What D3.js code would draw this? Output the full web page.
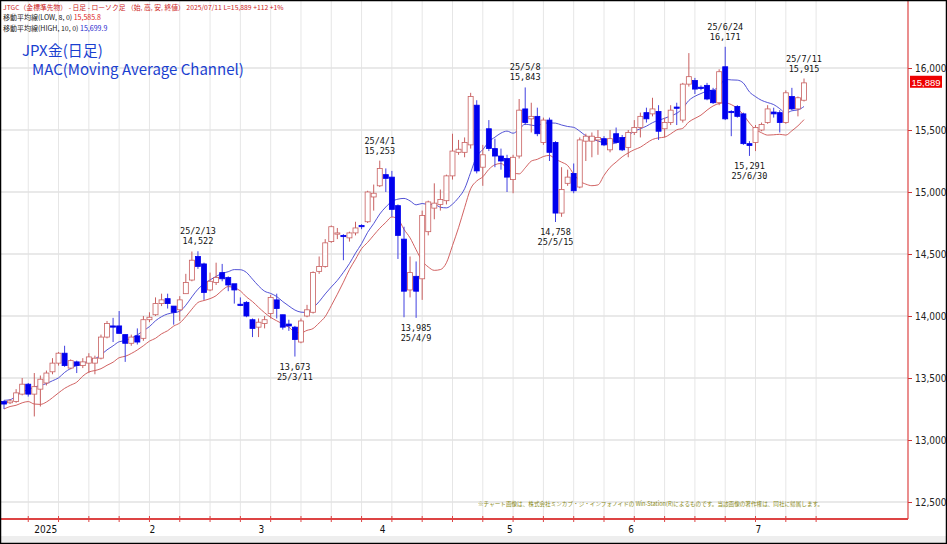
<!DOCTYPE html>
<html><head><meta charset="utf-8">
<script src="https://cdn.jsdelivr.net/npm/d3@7"></script>
<style>body{margin:0;background:#fff}svg{display:block;font-family:"Noto Sans CJK JP","DejaVu Sans",sans-serif}</style>
</head><body><svg id="c" width="947" height="544"></svg>
<script>
const opens=[13310,13300,13310,13370,13450,13370,13410,13460,13550,13620,13700,13580,13630,13600,13620,13620,13660,13830,13920,13920,13850,13780,13840,13820,13970,14010,14100,14140,14080,14050,14180,14290,14480,14420,14210,14270,14350,14310,14260,14095,14110,13970,13910,13940,14020,14130,14010,13935,13910,13790,14000,14030,14360,14400,14600,14660,14650,14630,14670,14730,14760,14960,15050,15140,15120,14890,14620,14210,14320,14300,14680,14870,14900,14930,15130,15320,15320,15380,15700,15200,15510,15350,15290,15270,15100,15290,15670,15590,15610,15400,15580,15400,14830,15070,15150,15040,15410,15410,15420,15430,15340,15470,15440,15360,15480,15520,15640,15630,15650,15510,15560,15685,15580,15870,15900,15845,15860,15820,15720,16010,15650,15690,15630,15390,15400,15500,15560,15645,15640,15560,15770,15670,15740];
const highs=[13320,13330,13410,13500,13460,13540,13520,13560,13660,13710,13760,13650,13640,13660,13700,13680,13850,13960,13985,14040,13850,13850,13900,14000,14030,14150,14180,14180,14080,14160,14340,14520,14522,14430,14350,14430,14420,14320,14250,14150,14120,13980,13980,14000,14170,14180,14010,13970,13920,13980,14090,14360,14480,14620,14730,14710,14660,14680,14760,14740,15010,15060,15253,15190,15170,14900,14720,14480,14440,14850,14930,15070,15020,15140,15470,15420,15440,15800,15740,15380,15580,15430,15350,15300,15300,15750,15843,15720,15680,15600,15600,15410,15200,15180,15230,15440,15470,15480,15500,15450,15500,15520,15460,15500,15580,15640,15680,15760,15700,15600,15700,15720,15880,16120,15920,15860,15880,15840,15990,16171,15660,15700,15640,15410,15540,15560,15700,15680,15660,15820,15840,15770,15915];
const lows=[13250,13290,13300,13360,13350,13190,13270,13440,13530,13600,13590,13570,13540,13580,13540,13530,13650,13820,13790,13860,13630,13760,13770,13800,13950,14000,14080,14060,13930,13960,14180,14280,14380,14130,14200,14250,14280,14200,14100,14080,13990,13830,13830,13900,13980,13980,13890,13880,13673,13780,13990,14020,14340,14390,14590,14620,14450,14600,14650,14700,14750,14850,15040,15000,14800,14460,13990,14150,13985,14130,14650,14780,14850,14900,15100,15300,15280,15350,15150,15050,15330,15200,15180,15000,14990,15270,15540,15480,15450,15380,15250,14758,14800,15050,14990,15030,15250,15280,15300,15370,15320,15390,15330,15280,15460,15440,15560,15610,15420,15440,15540,15540,15560,15850,15790,15820,15740,15710,15700,15580,15450,15600,15380,15291,15330,15490,15550,15600,15480,15550,15660,15610,15730];
const closes=[13290,13315,13380,13450,13370,13430,13490,13540,13620,13700,13600,13640,13600,13630,13670,13660,13830,13940,13910,13860,13780,13830,13790,13970,13990,14100,14130,14100,14030,14130,14270,14450,14400,14190,14280,14310,14300,14250,14210,14085,14000,13900,13950,13970,14150,14060,13910,13920,13810,13960,14050,14350,14400,14590,14720,14670,14640,14670,14710,14720,15000,14990,15190,15110,14860,14650,14200,14350,14200,14810,14920,14910,14940,15130,15330,15345,15400,15770,15170,15300,15350,15290,15250,15120,15280,15660,15560,15610,15470,15580,15320,14830,15020,15120,15010,15420,15450,15450,15440,15380,15430,15400,15340,15480,15520,15610,15590,15670,15490,15560,15660,15675,15870,15930,15830,15835,15750,15720,15970,15590,15640,15610,15390,15375,15520,15545,15670,15630,15560,15800,15670,15760,15880];
const priceTicks=[12500,13000,13500,14000,14500,15000,15500,16000];
const monthLabels=["2025","2","3","4","5","6","7"];
const monthIdx=[5,24,42,62,83,103,124];
const notes=[{i:32,top:"25/2/13",bot:"14,522",pos:"above",v:14522},{i:48,top:"13,673",bot:"25/3/11",pos:"below",v:13673},{i:62,top:"25/4/1",bot:"15,253",pos:"above",v:15253},{i:68,top:"13,985",bot:"25/4/9",pos:"below",v:13985},{i:86,top:"25/5/8",bot:"15,843",pos:"above",v:15843},{i:91,top:"14,758",bot:"25/5/15",pos:"below",v:14758},{i:119,top:"25/6/24",bot:"16,171",pos:"above",v:16171},{i:123,top:"15,291",bot:"25/6/30",pos:"below",v:15291},{i:132,top:"25/7/11",bot:"15,915",pos:"above",v:15915}];
const lowMA=8, highMA=10;

const svg=d3.select("#c");
const n=closes.length;
const x=d3.scaleLinear().domain([0,n-1]).range([4,804]);
const y=d3.scaleLinear().domain([12500,16000]).range([502,68]);
const W=947,H=544,R=908,B=519;
svg.append("rect").attr("width",W).attr("height",H).attr("fill","#fff");
const gv=d3.range(4,n+6,5);
svg.append("g").selectAll("line").data(gv).join("line").attr("x1",d=>x(d)).attr("x2",d=>x(d)).attr("y1",0).attr("y2",B).attr("stroke","#e6e6e6");
svg.append("g").selectAll("line").data(priceTicks).join("line").attr("x1",0).attr("x2",R).attr("y1",d=>y(d)).attr("y2",d=>y(d)).attr("stroke","#e2e2e2").attr("stroke-width",1.5);
const ax=svg.append("g").attr("transform",`translate(${R},0)`).call(d3.axisRight(y).tickValues(priceTicks).tickFormat(d3.format(",")).tickSize(4));
ax.select(".domain").remove();
ax.selectAll("line").attr("stroke","#c33");
ax.selectAll("text").attr("fill","#222").attr("font-size",10).attr("font-family","Liberation Sans Narrow, DejaVu Sans Condensed, sans-serif");
svg.append("line").attr("x1",R).attr("x2",R).attr("y1",0).attr("y2",B).attr("stroke","#d44").attr("stroke-width",1.2);
svg.append("line").attr("x1",0).attr("x2",R).attr("y1",B).attr("y2",B).attr("stroke","#d44").attr("stroke-width",2);
svg.append("g").selectAll("line").data(gv).join("line").attr("x1",d=>x(d)).attr("x2",d=>x(d)).attr("y1",B-3).attr("y2",B+3).attr("stroke","#d44");
svg.append("g").selectAll("text").data(monthLabels).join("text").attr("x",(d,i)=>x(monthIdx[i])).attr("y",533).attr("font-size",10).attr("fill","#111").attr("font-family","Liberation Sans Narrow, DejaVu Sans Condensed, sans-serif").text(d=>d);
svg.append("rect").attr("x",0).attr("y",536).attr("width",W).attr("height",8).attr("fill","#eee");
function ma(arr,p){return arr.map((v,i)=>{const s=arr.slice(Math.max(0,i-p+1),i+1);return d3.mean(s);});}
const lmA=ma(lows,lowMA), hmA=ma(highs,highMA);
const line=d3.line().x((d,i)=>x(i)).y(d=>y(d)).curve(d3.curveMonotoneX);
svg.append("path").attr("d",line(lmA)).attr("fill","none").attr("stroke","#cc5050").attr("stroke-width",0.9);
svg.append("path").attr("d",line(hmA)).attr("fill","none").attr("stroke","#4040d0").attr("stroke-width",0.9);
const g=svg.append("g");
const idx=d3.range(n);
const up=i=>closes[i]>=opens[i];
g.selectAll("line").data(idx).join("line").attr("x1",i=>x(i)).attr("x2",i=>x(i)).attr("y1",i=>y(highs[i])).attr("y2",i=>y(lows[i])).attr("stroke",i=>up(i)?"#c86060":"#4040e0");
g.selectAll("rect").data(idx).join("rect").attr("x",i=>x(i)-2.5).attr("width",5)
 .attr("y",i=>y(Math.max(opens[i],closes[i]))).attr("height",i=>Math.max(1,Math.abs(y(opens[i])-y(closes[i]))))
 .attr("fill",i=>up(i)?"#fff":"#0000ee").attr("stroke",i=>up(i)?"#c86060":"#0000ee").attr("stroke-width",0.8);
const ng=svg.append("g").attr("font-size",8.5).attr("fill","#111").attr("text-anchor","middle").attr("font-family","DejaVu Sans Mono, monospace");
notes.forEach(n0=>{const yy=y(n0.v);const xx=x(n0.i);
 if(n0.pos==="above"){ng.append("text").attr("x",xx).attr("y",yy-17).text(n0.top);ng.append("text").attr("x",xx).attr("y",yy-7).text(n0.bot);}
 else{ng.append("text").attr("x",xx).attr("y",yy+13).text(n0.top);ng.append("text").attr("x",xx).attr("y",yy+23).text(n0.bot);}});
const last=15889;
svg.append("rect").attr("x",R+2).attr("y",y(last)-6).attr("width",32).attr("height",12).attr("fill","#e00");
svg.append("text").attr("x",R+18).attr("y",y(last)+4).attr("text-anchor","middle").attr("font-size",9.5).attr("fill","#fff").attr("font-family","Liberation Sans Narrow, sans-serif").text("15,889");
const hf="Noto Sans CJK JP";
svg.append("text").attr("x",3).attr("y",10).attr("font-size",6.8).attr("fill","#c22").attr("font-family",hf).text("JTGC（金標準先物） - 日足 - ローソク足 （始, 高, 安, 終値）   2025/07/11  L=15,889 +112   +1%");
const h2=svg.append("text").attr("x",3).attr("y",20).attr("font-size",7).attr("font-family",hf);
h2.append("tspan").attr("fill","#222").text("移動平均線(LOW, 8, 0) ");h2.append("tspan").attr("fill","#d22").text("15,585.8");
const h3=svg.append("text").attr("x",3).attr("y",31).attr("font-size",7).attr("font-family",hf);
h3.append("tspan").attr("fill","#222").text("移動平均線(HIGH, 10, 0) ");h3.append("tspan").attr("fill","#22c").text("15,699.9");
svg.append("text").attr("x",22).attr("y",56).attr("font-size",15).attr("fill","#1a3fd0").attr("font-family",hf).text("JPX金(日足)");
svg.append("text").attr("x",32).attr("y",75).attr("font-size",15).attr("fill","#1a3fd0").attr("font-family",hf).text("MAC(Moving Average Channel)");
svg.append("text").attr("x",478).attr("y",506).attr("font-size",5.6).attr("fill","#8a8a20").attr("font-family",hf).text("※チャート画像は、株式会社ミンカブ・ジ・インフォノイドの Win-Station(R)によるものです。当該画像の著作権は、同社に帰属します。");
svg.append("rect").attr("x",0.5).attr("y",0.5).attr("width",W-1).attr("height",H-1).attr("fill","none").attr("stroke","#000").attr("stroke-width",1.5);
</script></body></html>
